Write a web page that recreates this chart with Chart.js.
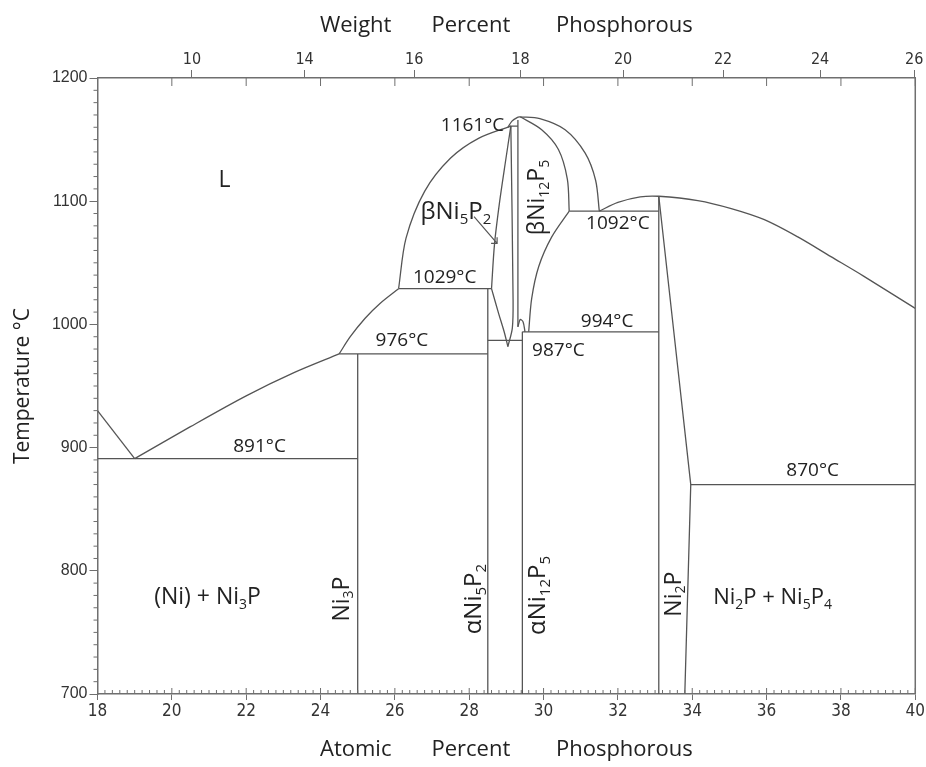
<!DOCTYPE html>
<html>
<head>
<meta charset="utf-8">
<title>Ni-P phase diagram</title>
<script src="https://cdn.jsdelivr.net/npm/chart.js@4.4.1/dist/chart.umd.min.js"></script>
<style>
  html, body { margin: 0; padding: 0; background: #fff; }
  #wrap { width: 926px; height: 767px; }
</style>
</head>
<body>
<div id="wrap"><canvas id="phaseChart"></canvas></div>
<script>
// atomic % P on x, temperature in °C on y
const liquidusNiSide = [[18, 930], [19, 891]];
const liquidusNi3P = [[19, 891], [20.5, 917], [22.0, 942], [23.3, 961], [24.5, 976]];
const liquidusLow = [[24.5, 976], [24.8, 990], [25.2, 1005], [25.6, 1017], [26.1, 1029]];
const beta52Liquidus = [[26.1, 1029], [26.3, 1070], [26.8, 1108], [27.5, 1135], [28.25, 1151], [29.12, 1161]];
const beta52Right = [[28.6, 1029], [28.68, 1065], [28.82, 1100], [28.97, 1131], [29.12, 1161]];
const beta52Lower = [[28.6, 1029], [28.79, 1009], [28.94, 994], [29.04, 982]];
const beta52Edge = [[29.12, 1161], [29.18, 1020], [29.16, 997], [29.04, 982]];
const beta125Left = [[29.31, 1166], [29.31, 998]];
const alpha125Cap = [[29.31, 998], [29.37, 1004], [29.45, 1002], [29.5, 994]];
const meltCap = [[29.04, 1160], [29.15, 1165], [29.3, 1168], [29.37, 1168.5]];
const beta125Liquidus = [[29.37, 1168.5], [29.9, 1167], [30.58, 1158], [31.12, 1139], [31.4, 1117], [31.5, 1092]];
const beta125Right = [[29.37, 1168.5], [29.95, 1158], [30.4, 1142], [30.64, 1118], [30.69, 1092]];
const beta125Lower = [[30.69, 1092], [30.22, 1071], [29.87, 1047], [29.68, 1021], [29.6, 994]];
const liquidusNi2P = [[31.5, 1092], [32.0, 1099], [32.6, 1103.5], [33.1, 1104], [34.15, 1100.5], [35.05, 1094], [35.94, 1085], [36.84, 1071], [37.73, 1055], [38.62, 1039], [40, 1013]];
const ni2pRight = [[33.1, 1104], [33.96, 870], [33.8, 700]];

// invariant lines
const isoTemps = [891, 976, 1029, 987, 994, 1092, 870, 1161];
const isoFrom = [18, 24.5, 26.1, 28.5, 29.43, 30.69, 33.96, 29.08];
const isoTo = [25, 28.5, 28.6, 29.43, 33.1, 33.1, 40, 29.31];

// compound lines running down to the bottom of the diagram
const compoundAt = [25, 28.5, 29.43, 33.1];
const compoundTop = [976, 1029, 994, 1104];

// top axis: weight % P ticks, placed at their atomic % position
const weightTickAt = [20.54, 23.57, 26.52, 29.38, 32.14, 34.83, 37.44, 39.97];
const weightTickLabels = ['10', '14', '16', '18', '20', '22', '24', '26'];

const lineColor = '#555';
const axisColor = '#6f6f6f';
const textColor = '#222';
const labelFamily = "'Open Sans', sans-serif";
const tickFamily = "'Liberation Sans Narrow', 'DejaVu Sans Condensed', sans-serif";

const toXY = pts => pts.map(p => ({ x: p[0], y: p[1] }));
const curves = [liquidusNi3P, liquidusLow, beta52Liquidus, beta52Right, beta52Lower, beta52Edge,
  alpha125Cap, meltCap, beta125Liquidus, beta125Right, beta125Lower, liquidusNi2P];
const straights = [liquidusNiSide, beta125Left, ni2pRight];

const datasets = [];
curves.forEach(c => datasets.push({ data: toXY(c), tension: 0.3 }));
straights.forEach(s => datasets.push({ data: toXY(s), tension: 0 }));
isoTemps.forEach((t, i) => datasets.push({ data: toXY([[isoFrom[i], t], [isoTo[i], t]]), tension: 0 }));
compoundAt.forEach((x, i) => datasets.push({ data: toXY([[x, compoundTop[i]], [x, 700]]), tension: 0 }));
datasets.forEach(d => Object.assign(d, {
  showLine: true, pointRadius: 0, borderColor: lineColor, borderWidth: 1.3, fill: false
}));

// text inside the diagram, "_n" is a subscript
const isoLabels = [
  { i: 0, x: 22.36, y: 901 }, { i: 1, x: 26.19, y: 986.5 }, { i: 2, x: 27.34, y: 1038 },
  { i: 3, x: 30.4, y: 978.5 }, { i: 4, x: 31.71, y: 1002 }, { i: 5, x: 32.0, y: 1082 },
  { i: 6, x: 37.24, y: 881 }, { i: 7, x: 28.09, y: 1161 }
];
const phaseLabels = [
  { t: 'L', x: 21.42, y: 1117, size: 23 },
  { t: 'βNi_5P_2', x: 27.64, y: 1091, size: 24 },
  { t: 'βNi_12P_5', x: 29.84, y: 1103, size: 23, rot: true },
  { t: '(Ni) + Ni_3P', x: 20.96, y: 778, size: 23 },
  { t: 'Ni_3P', x: 24.58, y: 777, size: 23, rot: true },
  { t: 'αNi_5P_2', x: 28.12, y: 777, size: 24, rot: true },
  { t: 'αNi_12P_5', x: 29.86, y: 780, size: 24, rot: true },
  { t: 'Ni_2P', x: 33.51, y: 781, size: 23, rot: true },
  { t: 'Ni_2P + Ni_5P_4', x: 36.16, y: 778, size: 22 }
];

function drawRich(ctx, str, x, y, size, rotate) {
  const parts = str.split(/(_\d+)/).filter(Boolean)
    .map(p => (p[0] === '_' ? { t: p.slice(1), sub: true } : { t: p, sub: false }));
  const big = size + 'px ' + labelFamily;
  const small = Math.round(size * 0.62) + 'px ' + labelFamily;
  let w = 0;
  parts.forEach(p => { ctx.font = p.sub ? small : big; p.w = ctx.measureText(p.t).width; w += p.w; });
  ctx.save();
  ctx.translate(x, y);
  if (rotate) ctx.rotate(-Math.PI / 2);
  ctx.textBaseline = 'middle';
  ctx.textAlign = 'left';
  let cx = -w / 2;
  parts.forEach(p => {
    ctx.font = p.sub ? small : big;
    ctx.fillText(p.t, cx, p.sub ? size * 0.32 : 0);
    cx += p.w;
  });
  ctx.restore();
}

const diagramExtras = {
  id: 'diagramExtras',
  afterDraw(chart) {
    const { ctx, chartArea: a } = chart;
    const sx = chart.scales.x, sy = chart.scales.y;
    const px = v => sx.getPixelForValue(v), py = v => sy.getPixelForValue(v);

    ctx.save();
    ctx.strokeStyle = axisColor;
    ctx.lineWidth = 1;
    ctx.beginPath();
    // minor temperature ticks, outside
    for (let t = 700; t <= 1200; t += 10) {
      if (t % 100 === 0) continue;
      ctx.moveTo(a.left - 4, py(t)); ctx.lineTo(a.left, py(t));
    }
    // minor composition ticks on the bottom, inside
    for (let k = 0; k <= 110; k++) {
      const x = px(18 + k * 0.2);
      ctx.moveTo(x, a.bottom); ctx.lineTo(x, a.bottom - (k % 10 === 0 ? 6 : 4));
    }
    // atomic % ticks hanging from the top axis
    for (let v = 20; v <= 40; v += 2) {
      ctx.moveTo(px(v), a.top); ctx.lineTo(px(v), a.top + 8);
    }
    ctx.stroke();
    ctx.lineWidth = 1.5;
    ctx.beginPath();
    ctx.moveTo(a.right, a.top); ctx.lineTo(a.right, a.bottom);
    ctx.stroke();

    // arrow pointing at the narrow beta Ni5P2 field
    const x0 = px(28.13), y0 = py(1087.4), x1 = px(28.75), y1 = py(1065.8);
    ctx.strokeStyle = lineColor;
    ctx.lineWidth = 1.2;
    ctx.beginPath();
    ctx.moveTo(x0, y0); ctx.lineTo(x1, y1);
    ctx.moveTo(x1 - 6, y1); ctx.lineTo(x1, y1); ctx.lineTo(x1, y1 - 6);
    ctx.stroke();

    ctx.fillStyle = textColor;
    ctx.textAlign = 'center';
    ctx.textBaseline = 'middle';
    ctx.font = '19px ' + labelFamily;
    isoLabels.forEach(l => ctx.fillText(isoTemps[l.i] + '°C', px(l.x), py(l.y)));
    phaseLabels.forEach(l => drawRich(ctx, l.t, px(l.x), py(l.y), l.size, l.rot));
    ctx.restore();
  }
};

new Chart(document.getElementById('phaseChart'), {
  type: 'scatter',
  data: { datasets },
  plugins: [diagramExtras],
  options: {
    responsive: true,
    maintainAspectRatio: false,
    animation: false,
    devicePixelRatio: 1,
    layout: { padding: { left: 0, right: 7.5, top: 0, bottom: 0 } },
    plugins: { legend: { display: false }, tooltip: { enabled: false } },
    scales: {
      x: {
        type: 'linear', position: 'bottom', min: 18, max: 40,
        afterFit: s => { s.height = 73; },
        ticks: {
          stepSize: 2, autoSkip: false, maxRotation: 0, padding: 1, color: '#333',
          font: { family: tickFamily, size: 17 }, callback: v => String(v)
        },
        grid: { drawOnChartArea: false, drawTicks: true, tickLength: 6, color: axisColor },
        border: { color: axisColor, width: 1.5 },
        title: {
          display: true, text: 'Atomic       Percent        Phosphorous', color: textColor,
          font: { family: labelFamily, size: 22 }, padding: { top: 0, bottom: 4 }
        }
      },
      xw: {
        type: 'linear', position: 'top', min: 18, max: 40,
        afterFit: s => { s.height = 78; },
        afterBuildTicks: s => { s.ticks = weightTickAt.map(v => ({ value: v })); },
        ticks: {
          autoSkip: false, maxRotation: 0, padding: 1, color: '#333',
          font: { family: tickFamily, size: 16 }, callback: (v, i) => weightTickLabels[i]
        },
        grid: { drawOnChartArea: false, drawTicks: true, tickLength: 8, color: axisColor },
        border: { color: axisColor, width: 1.5 },
        title: {
          display: true, text: 'Weight       Percent        Phosphorous', color: textColor,
          font: { family: labelFamily, size: 22 }, padding: { top: 13, bottom: 0 }
        }
      },
      y: {
        type: 'linear', position: 'left', min: 700, max: 1200,
        afterFit: s => { s.width = 97.5; },
        ticks: {
          stepSize: 100, padding: 2, color: '#333',
          font: { family: "'Liberation Sans', sans-serif", size: 16 }, callback: v => String(v)
        },
        grid: { drawOnChartArea: false, drawTicks: true, tickLength: 8, color: axisColor },
        border: { color: axisColor, width: 1.5 },
        title: {
          display: true, text: 'Temperature °C', color: textColor,
          font: { family: labelFamily, size: 21 }, padding: { top: 10, bottom: 0 }
        }
      }
    }
  }
});
</script>
</body>
</html>
